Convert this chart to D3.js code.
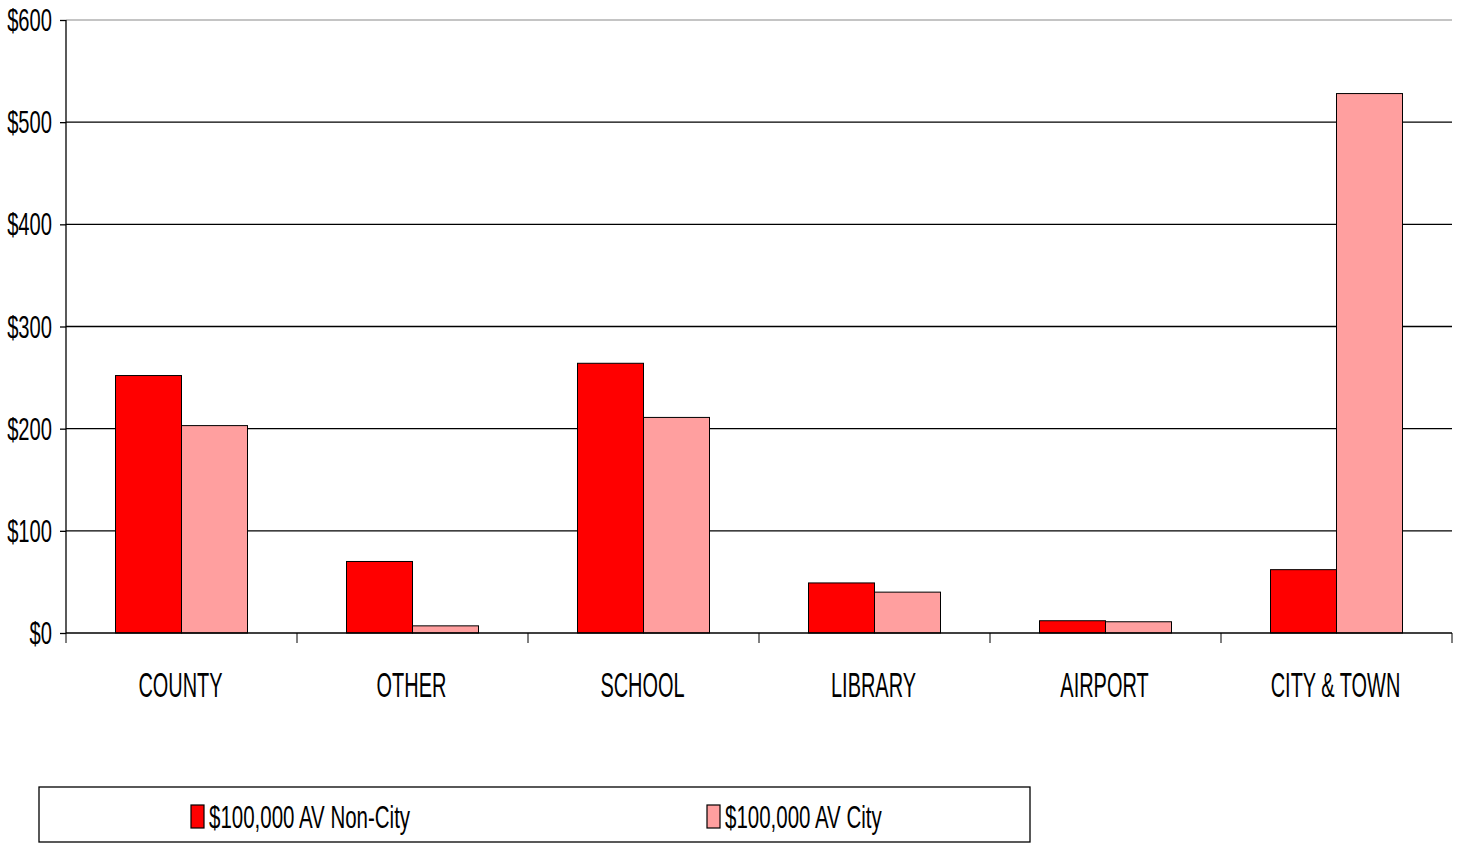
<!DOCTYPE html>
<html>
<head>
<meta charset="utf-8">
<script src="https://cdn.jsdelivr.net/npm/d3@7"></script>
<style>
  body { margin: 0; background: #fff; }
  text { font-family: "Liberation Sans", Arial, sans-serif; fill: #000; }
</style>
</head>
<body>
<div class="chart"></div>
<script>
var categories = ['COUNTY', 'OTHER', 'SCHOOL', 'LIBRARY', 'AIRPORT', 'CITY & TOWN'];
var seriesNames = ['$100,000 AV Non-City', '$100,000 AV City'];
var nonCity = [252, 70, 264, 49, 12, 62];
var city = [203, 7, 211, 40, 11, 528];
var yTicks = [0, 100, 200, 300, 400, 500, 600];
var colors = ['#ff0000', '#ff9f9f'];

var margin = { top: 20, right: 6, bottom: 212, left: 66 };
var width = 1458 - margin.left - margin.right;
var height = 845 - margin.top - margin.bottom;

// narrow text: the source font is a condensed face, so squeeze horizontally
function narrowText(sel, sx) {
  sel.each(function() {
    var t = d3.select(this);
    t.attr('transform', 'translate(' + t.attr('data-x') + ',' + t.attr('data-y') + ') scale(' + sx + ',1)');
  });
}

var svg = d3.select('.chart')
  .append('svg')
    .attr('width', 1458)
    .attr('height', 845);

var g = svg.append('g')
    .attr('transform', 'translate(' + margin.left + ',' + margin.top + ')');

var x = d3.scaleBand()
  .domain(categories)
  .range([0, width]);

var xInner = d3.scaleBand()
  .domain(seriesNames)
  .range([0, 132]);

var y = d3.scaleLinear()
  .domain([0, 600])
  .range([height, 0]);

// gridlines
g.selectAll('.grid')
  .data(yTicks.filter(d => d > 0))
  .enter()
  .append('line')
    .attr('x1', 0)
    .attr('x2', width)
    .attr('y1', d => y(d))
    .attr('y2', d => y(d))
    .style('stroke', d => d === 600 ? '#b0b0b0' : '#000')
    .style('stroke-width', 1.3);

// y axis
var yAxis = g.append('g')
  .call(d3.axisLeft(y).tickValues(yTicks).tickSize(6).tickFormat(''));
yAxis.select('.domain').attr('d', 'M0,' + height + 'V0').style('stroke-width', 1.3);
yAxis.selectAll('.tick line').style('stroke-width', 1.3);

g.selectAll('.ylbl')
  .data(yTicks)
  .enter()
  .append('text')
    .attr('data-x', -14)
    .attr('data-y', d => y(d) + 11)
    .attr('text-anchor', 'end')
    .style('font-size', '32px')
    .text(d => '$' + d)
    .call(narrowText, 0.63);

// bars
var data = categories.map((c, i) => ({ cat: c, vals: [nonCity[i], city[i]] }));

var groups = g.selectAll('.group')
  .data(data)
  .enter()
  .append('g')
    .attr('transform', d => 'translate(' + (x(d.cat) + (x.bandwidth() - 132) / 2) + ',0)');

groups.selectAll('rect')
  .data(d => d.vals.map((v, j) => ({ name: seriesNames[j], value: v, j: j })))
  .enter()
  .append('rect')
    .attr('x', d => xInner(d.name))
    .attr('width', xInner.bandwidth())
    .attr('y', d => y(d.value))
    .attr('height', d => height - y(d.value))
    .style('fill', d => colors[d.j])
    .style('stroke', '#000')
    .style('stroke-width', 1);

// x axis
var xAxis = g.append('g')
  .attr('transform', 'translate(0,' + height + ')');
xAxis.append('line')
  .attr('x1', 0).attr('x2', width)
  .style('stroke', '#000').style('stroke-width', 1.5);
xAxis.selectAll('.tk')
  .data(categories.concat(['end']))
  .enter()
  .append('line')
    .attr('x1', (d, i) => i * x.step())
    .attr('x2', (d, i) => i * x.step())
    .attr('y1', 0)
    .attr('y2', 10)
    .style('stroke', '#000');
xAxis.selectAll('.lbl')
  .data(categories)
  .enter()
  .append('text')
    .attr('data-x', d => x(d) + x.bandwidth() / 2 - 1)
    .attr('data-y', 64)
    .attr('text-anchor', 'middle')
    .style('font-size', '35px')
    .text(d => d)
    .call(narrowText, 0.57);

// legend
var legend = svg.append('g');
legend.append('rect')
  .attr('x', 39).attr('y', 787)
  .attr('width', 991).attr('height', 55)
  .style('fill', '#fff')
  .style('stroke', '#000')
  .style('stroke-width', 1.3);

var legendX = [191, 707];
var items = legend.selectAll('.item')
  .data(seriesNames)
  .enter()
  .append('g')
    .attr('transform', (d, i) => 'translate(' + legendX[i] + ',0)');
items.append('rect')
  .attr('x', 0).attr('y', 805)
  .attr('width', 13).attr('height', 23)
  .style('fill', (d, i) => colors[i])
  .style('stroke', '#000')
  .style('stroke-width', 1.2);
items.append('text')
  .attr('data-x', 18)
  .attr('data-y', 828)
  .style('font-size', '32px')
  .text(d => d)
  .call(narrowText, 0.64);
</script>
</body>
</html>
